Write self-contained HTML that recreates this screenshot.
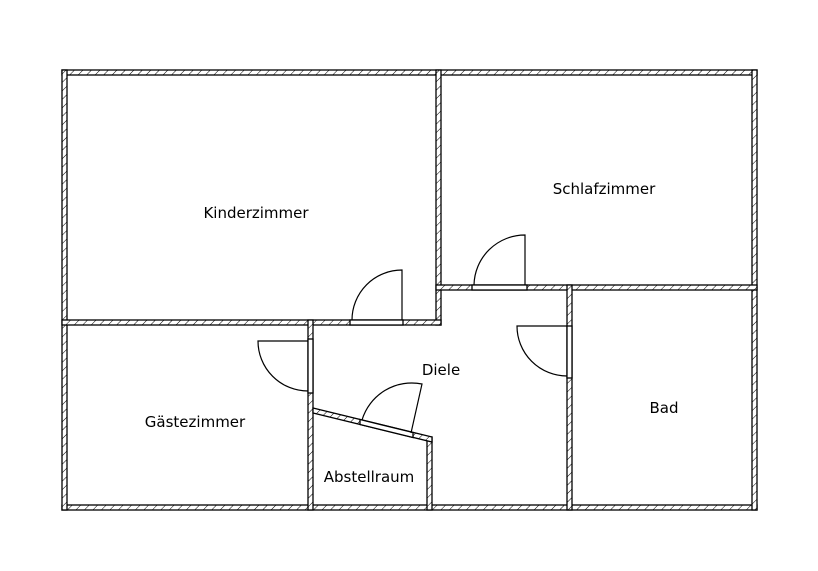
<!DOCTYPE html>
<html><head><style>html,body{margin:0;padding:0;background:#fff;}svg{display:block}</style></head>
<body>
<svg width="818" height="571" viewBox="0 0 818 571" xmlns="http://www.w3.org/2000/svg">
<defs>
<pattern id="h" width="6" height="6" patternUnits="userSpaceOnUse" patternTransform="rotate(45)">
<rect width="6" height="6" fill="#fff"/>
<line x1="0" y1="0" x2="0" y2="6" stroke="#000" stroke-width="1"/>
</pattern>
</defs>
<g fill="url(#h)" stroke="#000" stroke-width="1.3">
<rect x="62" y="70" width="695" height="5"/>
<rect x="62" y="505" width="695" height="5"/>
<rect x="62" y="70" width="5" height="440"/>
<rect x="752" y="70" width="5" height="440"/>
<rect x="436" y="70" width="5" height="255"/>
<rect x="62" y="320" width="379" height="5"/>
<rect x="436" y="285" width="321" height="5"/>
<rect x="308" y="320" width="5" height="190"/>
<rect x="567" y="285" width="5" height="225"/>
<rect x="427" y="437" width="5" height="73"/>
<polygon points="313,408 432,437 432,442 313,413"/>
</g>
<g fill="#fff" stroke="#000" stroke-width="1.3">
<rect x="350" y="320" width="53" height="5"/>
<rect x="472" y="285" width="55" height="5"/>
<rect x="308" y="339" width="5" height="54"/>
<rect x="567" y="326" width="5" height="52"/>
<polygon points="360,419.5 413,432.5 413,437.5 360,424.5"/>
</g>
<g fill="none" stroke="#000" stroke-width="1.2">
<path d="M402,320 L402,270 A50,50 0 0 0 352,320"/>
<path d="M525,285 L525,235 A51,51 0 0 0 474,285"/>
<path d="M308,341 L258,341 A50,50 0 0 0 308,391"/>
<path d="M567,326 L517,326 A50,50 0 0 0 567,376"/>
<path d="M411,433 L422,384 A52,52 0 0 0 362,420"/>
</g>
<g font-family="DejaVu Sans, sans-serif" font-size="15" text-anchor="middle" fill="#000">
<text x="256" y="218">Kinderzimmer</text>
<text x="604" y="194">Schlafzimmer</text>
<text x="441" y="375">Diele</text>
<text x="195" y="427">Gästezimmer</text>
<text x="664" y="413">Bad</text>
<text x="369" y="482">Abstellraum</text>
</g>
</svg>
</body></html>
